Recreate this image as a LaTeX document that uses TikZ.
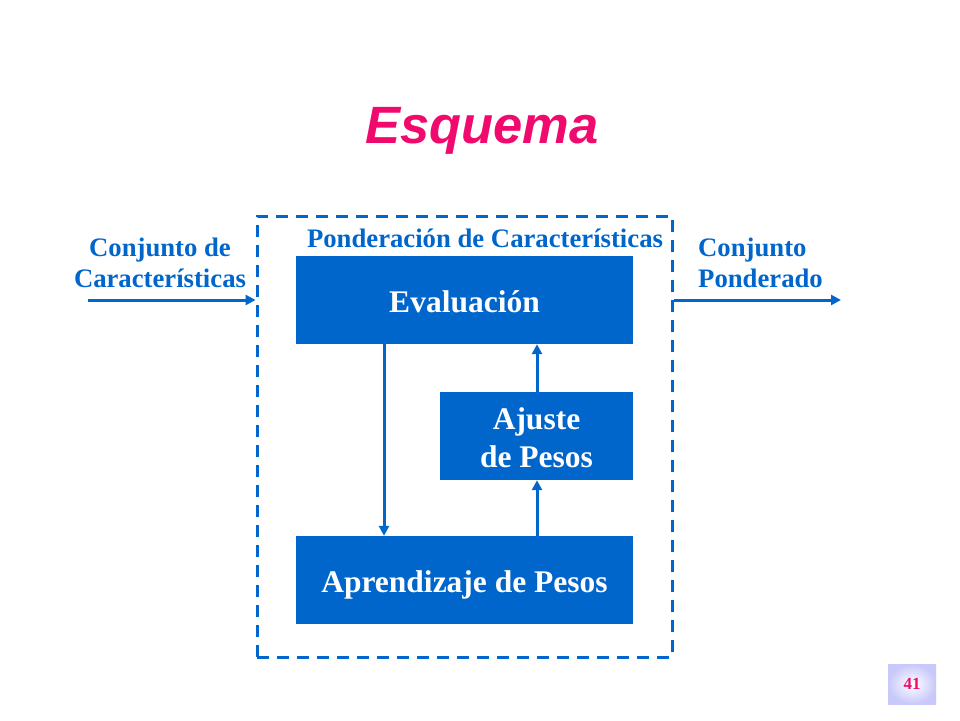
\documentclass[tikz,border=0pt]{standalone}
\usepackage{fontspec}
\setmainfont{Liberation Serif}
\newfontfamily\titlefont{Liberation Sans}
\usetikzlibrary{arrows.meta,calc}
\definecolor{myblue}{HTML}{0066CC}
\definecolor{mymag}{HTML}{F00A6E}
\definecolor{lav}{HTML}{C8C8FA}
\begin{document}
\begin{tikzpicture}[x=1pt,y=-1pt,
  blk/.style={fill=myblue,draw=none,text=white,font=\fontsize{31.5}{38}\selectfont\bfseries,align=center,inner sep=0pt,text height=27pt,text depth=3pt},
  lbl/.style={text=myblue,font=\fontsize{26.7}{31}\selectfont\bfseries,inner sep=0pt},
  arr/.style={draw=myblue,line width=3pt,-{Triangle[length=10pt,width=10pt]}}]
\useasboundingbox (0,0) rectangle (960,720);
% title
\node[text=mymag,font=\titlefont\fontsize{52.5}{60}\selectfont\bfseries\itshape,anchor=base,inner sep=0pt] (title) at (482,143) {Esquema};
% frame
\node[draw=myblue,line width=3pt,dash pattern=on 12pt off 8pt,minimum width=415pt,minimum height=441pt,inner sep=0pt] (frame) at (464.5,436.5) {};
\node[lbl,anchor=base] (plabel) at (485,247) {Ponderación de Características};
% blocks
\node[blk,minimum width=337pt,minimum height=88pt] (eval) at (464.5,300) {Evaluación};
\node[blk,minimum width=193pt,minimum height=88pt,text height=65pt,text depth=3pt] (ajus) at (536.5,436) {Ajuste\\de Pesos};
\node[blk,minimum width=337pt,minimum height=88pt] (apr) at (464.5,580) {Aprendizaje de Pesos};
% internal arrows
\coordinate (lx) at (384,0);
\coordinate (rx) at (537,0);
\draw[arr] (eval.south -| lx) -- (apr.north -| lx);
\draw[arr] (apr.north -| rx) -- (ajus.south -| rx);
\draw[arr] (ajus.north -| rx) -- (eval.south -| rx);
% input
\node[lbl,align=center] (inlbl) at (160,263) {Conjunto de\\Características};
\coordinate (inp) at (88,300);
\draw[arr] (inp) -- (inp -| frame.west);
% output
\node[lbl,align=left,anchor=west] (outlbl) at (698,263) {Conjunto\\Ponderado};
\coordinate (outp) at (841,300);
\draw[arr] (inp -| frame.east) -- (outp);
% page number
\node[inner sep=0pt,minimum width=48pt,minimum height=40pt,shading=radial,inner color=white,outer color=lav] (pg) at (912,684) {};
\node[text=mymag,font=\fontsize{17}{20}\selectfont\bfseries] (pgnum) at (pg) {41};
\end{tikzpicture}
\end{document}
